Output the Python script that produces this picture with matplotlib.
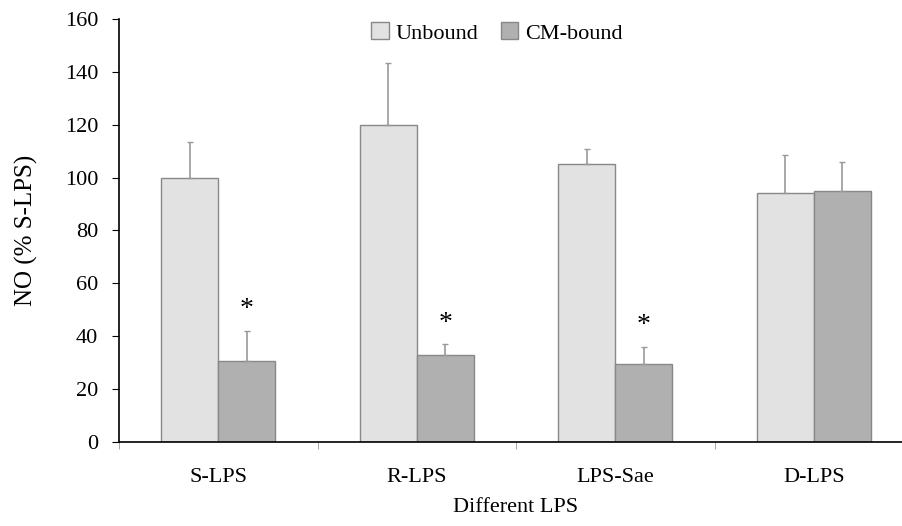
import matplotlib.pyplot as plt
import numpy as np

plt.rcParams['font.family'] = ['Liberation Serif', 'DejaVu Serif']

categories = ['S-LPS', 'R-LPS', 'LPS-Sae', 'D-LPS']
unbound = [100, 120, 105, 94]
unbound_err = [13.5, 23.5, 6, 14.5]
cm_bound = [30.5, 33, 29.5, 95]
cm_err = [11.5, 4, 6.5, 11]
significant = [True, True, True, False]

fig = plt.figure(figsize=(9.03, 5.26), dpi=100)
ax = fig.add_axes([119 / 903, (526 - 442) / 526, 794 / 903, 423 / 526])

x = np.arange(len(categories))
w = 0.287
ekw = dict(ecolor='#999999', elinewidth=1.2, capsize=2.5, capthick=1.0)
ax.bar(x - w / 2, unbound, w, color='#e2e2e2', edgecolor='#888888', linewidth=1,
       label='Unbound', yerr=[np.zeros(4), unbound_err], error_kw=ekw)
ax.bar(x + w / 2, cm_bound, w, color='#b0b0b0', edgecolor='#888888', linewidth=1,
       label='CM-bound', yerr=[np.zeros(4), cm_err], error_kw=ekw)

# significance marks above the CM-bound bars
for i, s in enumerate(significant):
    if s:
        ax.text(x[i] + w / 2, cm_bound[i] + cm_err[i] + 8, '*', ha='center',
                va='center', fontsize=20)

ax.set_xlim(-0.5, 3.45)
ax.set_ylim(0, 160)
ax.set_yticks(range(0, 161, 20))
ax.set_xticks(x)
ax.set_xticklabels(categories, fontsize=16)
ax.set_xticks(np.arange(-0.5, 3.6, 1), minor=True)
ax.tick_params(axis='x', which='major', length=0, pad=19)
ax.tick_params(axis='x', which='minor', length=5, color='#999999')
ax.tick_params(axis='y', labelsize=16, length=5, pad=10)
for s in ['top', 'right']:
    ax.spines[s].set_visible(False)
ax.spines['left'].set_linewidth(1.2)
ax.spines['bottom'].set_linewidth(1.2)

ax.set_ylabel('NO (% S-LPS)', fontsize=18, labelpad=19)
ax.set_xlabel('Different LPS', fontsize=16, labelpad=8)

ax.legend(loc='center', bbox_to_anchor=(0.476, 1 - 14 / 423), ncol=2, frameon=False,
          fontsize=16, handlelength=0.8, handleheight=0.8, handletextpad=0.3,
          columnspacing=1.0)

fig.savefig('out.png', dpi=100)
